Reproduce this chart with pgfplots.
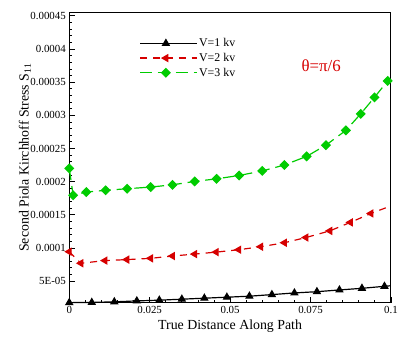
\documentclass[border=0pt]{standalone}
\usepackage{pgfplots}
\pgfplotsset{compat=1.18}
\usepackage{fontspec}
\setmainfont{Liberation Serif}
\definecolor{cred}{RGB}{214,0,0}
\definecolor{cgreen}{RGB}{0,204,0}
\begin{document}
\begin{tikzpicture}
\begin{axis}[
  at={(0,0)}, anchor=south west,
  scale only axis, width=325pt, height=293.3pt,
  xmin=0, xmax=0.1, ymin=1.72e-5, ymax=4.55e-4,
  clip=false,
  scaled x ticks=false, scaled y ticks=false,
  xtick={0,0.025,0.05,0.075,0.1},
  xticklabels={0,0.025,0.05,0.075,0.1},
  ytick={5e-5,1e-4,1.5e-4,2e-4,2.5e-4,3e-4,3.5e-4,4e-4,4.5e-4},
  yticklabels={5E-05,0.0001,0.00015,0.0002,0.00025,0.0003,0.00035,0.0004,0.00045},
  minor x tick num=4, minor y tick num=4,
  tick align=inside, xtick pos=lower, ytick pos=left,
  major tick length=6pt, minor tick length=3pt,
  tick style={black, line width=0.8pt},
  axis line style={line width=1.1pt},
  ticklabel style={font=\fontsize{11}{13}\selectfont},
  xlabel={True Distance Along Path},
  ylabel={Second Piola Kirchhoff Stress S\textsubscript{11}},
  xlabel style={font=\fontsize{14}{16}\selectfont, at={(axis description cs:0.5,-0.082)}, anchor=center},
  ylabel style={font=\fontsize{14}{16}\selectfont, at={(axis description cs:-0.138,0.5)}, anchor=center},
  legend image code/.code={\draw[#1, mark indices={2}] plot coordinates {(0pt,0pt) (26pt,0pt) (52pt,0pt)};
    \path (0pt,0pt) -- (57pt,0pt);},
  legend style={draw=none, fill=none, font=\fontsize{12}{14}\selectfont,
    at={(axis description cs:0.218,0.918)}, anchor=north west,
    row sep=1pt, inner sep=0pt},
  legend cell align=left,
]
\addplot[black, line width=1.2pt, mark=triangle*, mark size=3.8pt, mark options={solid},
  mark indices={1,2,3,4,5,6,7,8,9,10,11,12,13,14,15}] coordinates {
(0,1.75e-5) (0.007,1.78e-5) (0.014,1.87e-5) (0.021,2.01e-5) (0.028,2.12e-5)
(0.035,2.27e-5) (0.042,2.42e-5) (0.049,2.57e-5) (0.056,2.72e-5) (0.063,2.96e-5)
(0.070,3.21e-5) (0.077,3.40e-5) (0.084,3.66e-5) (0.091,3.91e-5) (0.098,4.21e-5)
(0.1,4.30e-5)};
\addlegendentry{V=1 kv}
\addplot[cred, line width=1.2pt, dash pattern=on 7pt off 6pt, mark=triangle*, mark size=3.8pt,
  mark options={solid, rotate=90},
  mark indices={1,2,3,4,5,6,7,8,9,10,11,12,13,14,15}] coordinates {
(0,9.43e-5) (0.0036,7.69e-5) (0.0111,8.09e-5) (0.0179,8.24e-5) (0.0253,8.43e-5)
(0.0321,8.78e-5) (0.039,9.07e-5) (0.0457,9.37e-5) (0.0527,9.73e-5) (0.0595,1.018e-4)
(0.0669,1.078e-4) (0.0736,1.157e-4) (0.081,1.257e-4) (0.0874,1.385e-4) (0.0938,1.52e-4)
(0.1,1.634e-4)};
\addlegendentry{V=2 kv}
\addplot[cgreen, line width=1.2pt, dash pattern=on 12pt off 6pt, mark=square*, mark size=3pt,
  mark options={solid, rotate=45}] coordinates {
(0,2.20e-4) (0.0012,1.794e-4) (0.0053,1.843e-4) (0.0113,1.869e-4) (0.018,1.893e-4)
(0.0253,1.918e-4) (0.0321,1.952e-4) (0.039,2.003e-4) (0.0458,2.042e-4) (0.0528,2.093e-4)
(0.06,2.161e-4) (0.0669,2.251e-4) (0.0738,2.381e-4) (0.0798,2.55e-4) (0.086,2.773e-4)
(0.0906,3.022e-4) (0.0949,3.272e-4) (0.099,3.519e-4)};
\addlegendentry{V=3 kv}
\node[text=cred, font=\fontsize{17}{20}\selectfont, anchor=center] at (axis cs:0.0783,3.75e-4) {θ=π/6};
\end{axis}
\path (-70pt,-31pt) rectangle (331pt,306pt);
\end{tikzpicture}
\end{document}
